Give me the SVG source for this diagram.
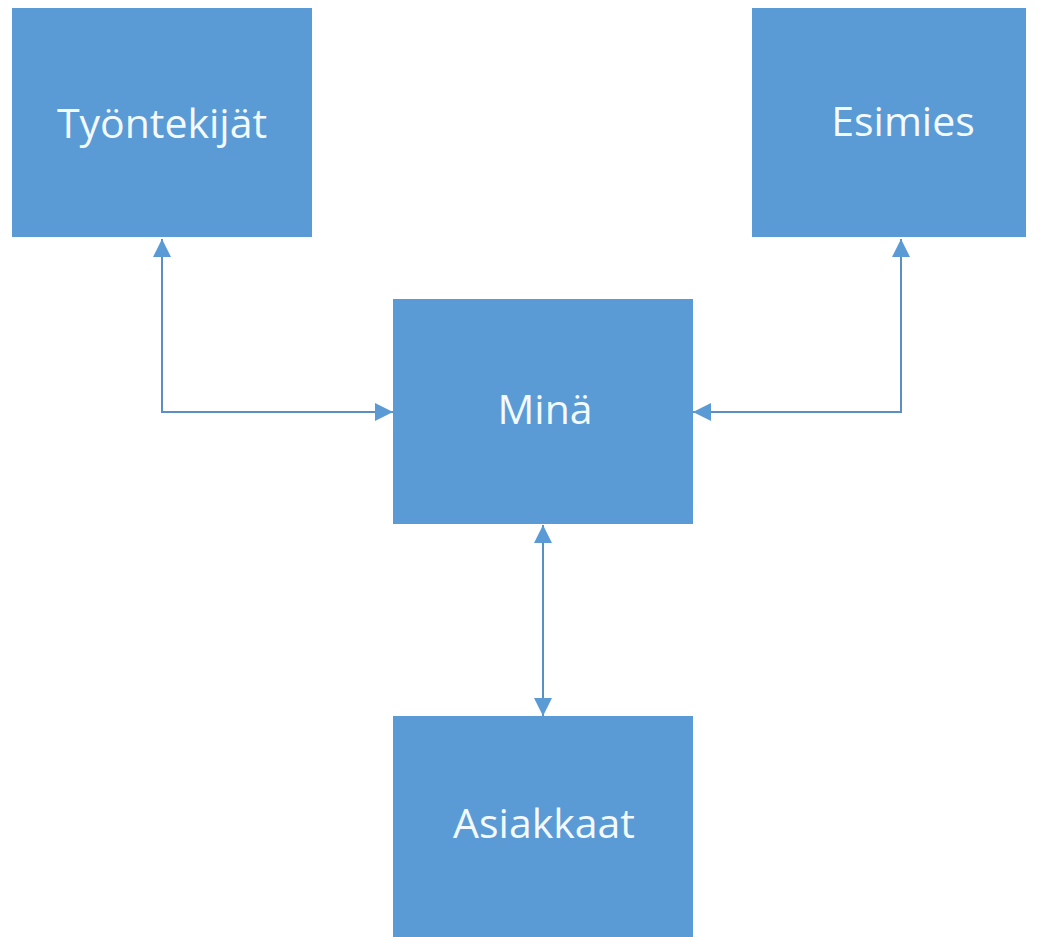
<svg xmlns="http://www.w3.org/2000/svg" width="1046" height="937" viewBox="0 0 1046 937">
  <style>
    .box { fill: #5B9BD5; }
    .lbl { font-family: "Open Sans", "Noto Sans", "Liberation Sans", sans-serif; font-size: 41px; fill: #F2FAFF; text-anchor: middle; }
    .conn { fill: none; stroke: #5B8FC4; stroke-width: 2; }
  </style>
  <defs>
    <marker id="arrow" viewBox="0 0 10 10" refX="10" refY="5" markerWidth="19" markerHeight="18" markerUnits="userSpaceOnUse" orient="auto-start-reverse">
      <path d="M0,0 L10,5 L0,10 Z" fill="#5B9BD5"/>
    </marker>
  </defs>
  <rect width="1046" height="937" fill="#FFFFFF"/>
  <g id="tyontekijat">
    <rect class="box" x="12" y="8" width="300" height="229"/>
    <text class="lbl" x="162" y="138">Työntekijät</text>
  </g>
  <g id="esimies">
    <rect class="box" x="752" y="8" width="274" height="229"/>
    <text class="lbl" x="903" y="136">Esimies</text>
  </g>
  <g id="mina">
    <rect class="box" x="393" y="299" width="300" height="225"/>
    <text class="lbl" x="545" y="424">Minä</text>
  </g>
  <g id="asiakkaat">
    <rect class="box" x="393" y="716" width="300" height="225"/>
    <text class="lbl" x="544" y="838">Asiakkaat</text>
  </g>
  <g id="connectors">
    <polyline class="conn" points="162,239 162,412 393,412" marker-start="url(#arrow)" marker-end="url(#arrow)"/>
    <polyline class="conn" points="901,239 901,412 693,412" marker-start="url(#arrow)" marker-end="url(#arrow)"/>
    <line class="conn" x1="543" y1="525" x2="543" y2="716" marker-start="url(#arrow)" marker-end="url(#arrow)"/>
  </g>
</svg>
